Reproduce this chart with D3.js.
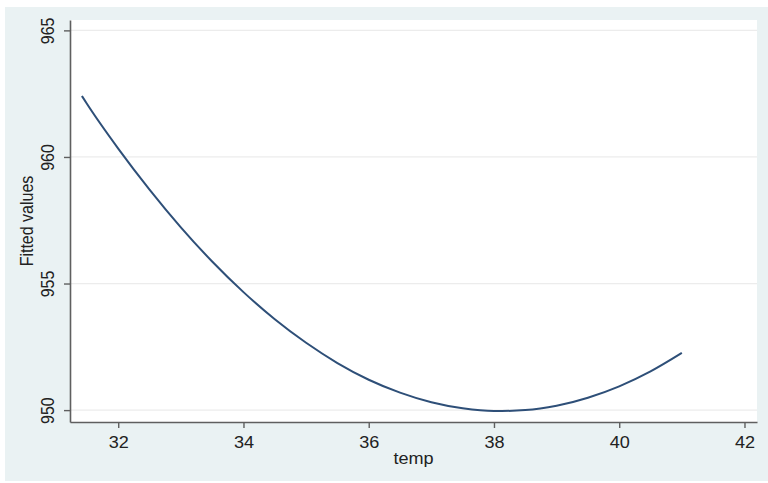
<!DOCTYPE html>
<html>
<head>
<meta charset="utf-8">
<script src="https://cdn.jsdelivr.net/npm/d3@7"></script>
<style>
  body { margin: 0; background: #fff; }
  svg { display: block; font-family: "Liberation Sans", Arial, sans-serif; }
</style>
</head>
<body>
<div id="svg-container"></div>
<script>
//////////////  Data  //////////////
const temp = [31.42, 31.5, 32, 32.5, 33, 33.5, 34, 34.5, 35, 35.5, 36, 36.5, 37, 37.5, 38, 38.5, 39, 39.5, 40, 40.5, 41];
const fitted = [962.41, 962.1, 960.33, 958.71, 957.22, 955.87, 954.66, 953.59, 952.66, 951.86, 951.2, 950.69, 950.31, 950.07, 949.96, 950.0, 950.17, 950.49, 950.94, 951.53, 952.26];
const xTicks = [32, 34, 36, 38, 40, 42];
const yTicks = [950, 955, 960, 965];
const xTitle = "temp";
const yTitle = "Fitted values";

const data = temp.map((t, i) => ({ temp: t, fit: fitted[i] }));

//////////////  Init  //////////////
const width = 768;
const height = 483;
const plot = { left: 70, right: 757, top: 20, bottom: 422 };
const stretch = 1.13; // text is a bit wider than tall in the original
const fontSize = 16;

const svg = d3
  .select("#svg-container")
  .append("svg")
  .attr("width", width)
  .attr("height", height);

// graph region + plot region
svg.append("rect")
  .attr("x", 5).attr("y", 7)
  .attr("width", width - 5).attr("height", 474)
  .attr("fill", "#eaf2f3");

svg.append("rect")
  .attr("x", plot.left).attr("y", plot.top)
  .attr("width", plot.right - plot.left).attr("height", plot.bottom - plot.top)
  .attr("fill", "#fff");

// scale
const xScale = d3.scaleLinear().domain([31.23, 42.2]).range([plot.left, plot.right]);
const yScale = d3.scaleLinear().domain([949.53, 965.41]).range([plot.bottom, plot.top]);

// grid
svg.append("g")
  .selectAll("line")
  .data(yTicks)
  .join("line")
  .attr("x1", plot.left)
  .attr("x2", plot.right)
  .attr("y1", (d) => yScale(d))
  .attr("y2", (d) => yScale(d))
  .attr("stroke", "#ececec")
  .attr("stroke-width", 1.2);

// axis
const xAxis = d3.axisBottom(xScale).tickValues(xTicks).tickSize(6).tickSizeOuter(0);
const yAxis = d3.axisLeft(yScale).tickValues(yTicks).tickSize(6).tickSizeOuter(0);

const gx = svg.append("g")
  .attr("transform", `translate(0,${plot.bottom})`)
  .call(xAxis);

const gy = svg.append("g")
  .attr("transform", `translate(${plot.left},0)`)
  .call(yAxis);

[gx, gy].forEach((g) => {
  g.select(".domain").attr("stroke", "#5f5f5f").attr("stroke-width", 1.6);
  g.selectAll(".tick line").attr("stroke", "#5f5f5f").attr("stroke-width", 1.4);
  g.selectAll(".tick text")
    .attr("fill", "#222")
    .attr("font-size", fontSize)
    .attr("font-family", "Liberation Sans, Arial, sans-serif")
    .attr("x", 0).attr("y", 0).attr("dy", null)
    .attr("text-anchor", "middle");
});

gx.selectAll(".tick text").attr("transform", `translate(0,25.5) scale(${stretch},1)`);
gy.selectAll(".tick text").attr("transform", `translate(-16,0) scale(${stretch},1) rotate(-90)`);

// axis titles
svg.append("text")
  .attr("transform", `translate(${(plot.left + plot.right) / 2},464) scale(${stretch},1)`)
  .attr("text-anchor", "middle")
  .attr("font-size", fontSize)
  .attr("fill", "#222")
  .text(xTitle);

svg.append("text")
  .attr("transform", `translate(33,${(plot.top + plot.bottom) / 2}) scale(${stretch},1) rotate(-90)`)
  .attr("text-anchor", "middle")
  .attr("font-size", fontSize)
  .attr("fill", "#222")
  .text(yTitle);

// line
const line = d3
  .line()
  .curve(d3.curveMonotoneX)
  .x((d) => xScale(d.temp))
  .y((d) => yScale(d.fit));

svg.append("path")
  .datum(data)
  .attr("fill", "none")
  .attr("stroke", "#2e4f78")
  .attr("stroke-width", 2)
  .attr("d", line);
</script>
</body>
</html>
